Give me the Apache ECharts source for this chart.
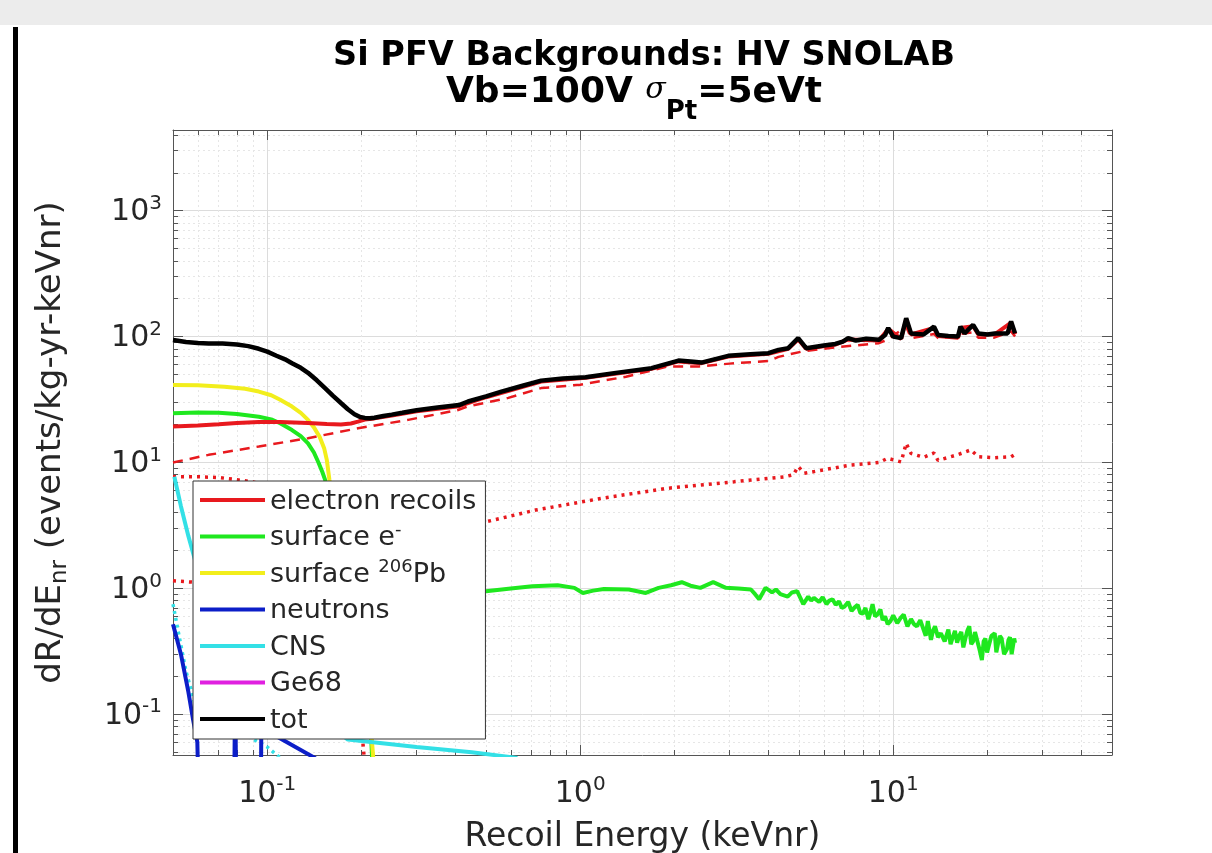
<!DOCTYPE html>
<html>
<head>
<meta charset="utf-8">
<title>Si PFV Backgrounds: HV SNOLAB</title>
<script src="https://cdn.jsdelivr.net/npm/echarts@6/dist/echarts.min.js"></script>
<style>
  html, body { margin: 0; padding: 0; background: #fff; }
  #chart { width: 1212px; height: 853px; }
</style>
</head>
<body>
<div id="chart"></div>
<script>
// values, [recoil energy keVnr, dR/dE]
const totPts = [[0.05, 94], [0.055, 90.5], [0.06, 89], [0.065, 88.3], [0.072, 88], [0.08, 86.5], [0.087, 84], [0.094, 80],
  [0.1, 76], [0.107, 70.5], [0.114, 66], [0.12, 61.5], [0.128, 56.5], [0.135, 51.6], [0.144, 45], [0.153, 39], [0.162, 34],
  [0.172, 29.7], [0.181, 26.5], [0.19, 24.2], [0.198, 23], [0.205, 22.6], [0.213, 22.5], [0.22, 22.7], [0.235, 23.4],
  [0.25, 24], [0.27, 24.8], [0.3, 26], [0.35, 27.3], [0.41, 28.6], [0.438, 30.5], [0.5, 33.5], [0.56, 36.5], [0.65, 40.5],
  [0.75, 44.7], [0.88, 46.5], [1.04, 47.6], [1.3, 51.5], [1.69, 56.1], [2.06, 64.5], [2.3, 63], [2.44, 62.2], [2.97, 70.3],
  [3.5, 72.5], [3.99, 73.9], [4.3, 78.4], [4.62, 80.9], [4.97, 97.2], [5.27, 80.9], [6, 85], [6.53, 87.5], [6.9, 91.3],
  [7.18, 97.2], [7.6, 93], [8.2, 96], [9, 94.2], [9.42, 103], [9.64, 117], [10, 100], [10.6, 97.2], [11, 140], [11.4, 106],
  [12.5, 104], [13.5, 120], [13.9, 103], [15, 101], [16.1, 100], [16.4, 120], [16.9, 106], [18, 124], [18.7, 106], [20, 104],
  [21.1, 106], [23.2, 106], [23.8, 132], [24.5, 106]]

const electronPts = [[0.05, 19.3], [0.06, 19.7], [0.07, 20.1], [0.08, 20.6], [0.094, 21], [0.11, 21], [0.135, 20.6],
  [0.155, 20.2], [0.172, 20], [0.185, 20.4], [0.195, 21.1], [0.205, 21.9], [0.22, 22.4], [0.25, 23.6], [0.3, 25.5],
  [0.41, 28], [0.5, 33], [0.75, 44], [1.04, 47], [1.69, 55.5], [2.06, 63.5], [2.44, 61.5], [2.97, 69.5], [3.99, 73],
  [4.62, 80], [4.97, 95], [5.27, 80], [6.53, 86.5], [7.18, 95], [9, 93], [9.64, 115], [10.6, 96], [11, 137], [11.4, 104],
  [13.5, 117], [13.9, 101], [16.1, 98], [16.4, 117], [18, 121], [18.7, 104], [21.1, 104], [23.8, 129], [24.5, 104]]

const electronDashed = [[0.05, 10], [0.065, 11.5], [0.094, 13.4], [0.135, 15.6], [0.195, 18.7], [0.282, 21.8], [0.407, 26.1],
  [0.438, 27.9], [0.589, 32.6], [0.75, 39], [1.0, 41.5], [1.4, 48], [1.9, 57.8], [2.4, 58], [3.0, 61], [4.0, 64], [4.3, 69],
  [5.1, 76], [6.5, 82], [9.0, 88.7], [9.6, 95], [11, 120], [11.4, 97], [13.5, 105], [14, 96], [16.4, 105], [18, 108],
  [18.7, 98], [21, 98], [23.8, 110], [24.5, 100]]

const electronDotted = [[0.05, 7.7], [0.06, 7.7], [0.07, 7.6], [0.08, 7.3], [0.09, 7.0], [0.12, 5.8], [0.2, 4.3], [0.3, 3.5],
  [0.4, 3.3], [0.5, 3.38], [0.72, 4.19], [1.17, 5.19], [1.9, 6.24], [3.1, 7.03], [4.5, 7.7], [4.8, 8], [4.97, 9.3], [5.2, 8.2],
  [7.3, 9.55], [9.0, 10], [9.6, 10.8], [10.6, 10.1], [11, 14.2], [11.4, 11.8], [12.5, 11], [13.5, 11.9], [13.9, 10.4],
  [16, 11.5], [17.7, 12.6], [18.7, 11.1], [21, 10.9], [23.8, 11.1], [24.5, 11.6]]

const electronDottedLow = [[0.05, 1.15], [0.058, 1.12], [0.07, 1.05], [0.1, 0.85], [0.14, 0.5], [0.18, 0.2], [0.2, 0.08],
  [0.205, 0.04]]

const surfaceEPts = [[0.05, 24.6], [0.06, 24.9], [0.07, 24.8], [0.08, 24.3], [0.094, 23.1], [0.103, 22], [0.11, 20.5],
  [0.12, 18.1], [0.128, 16.2], [0.135, 14.2], [0.141, 12], [0.146, 9.9], [0.15, 8.4], [0.153, 7.3], [0.17, 3.2], [0.19, 1.1],
  [0.205, 0.3], [0.214, 0.08], [0.218, 0.03]]

const surfaceEHigh = [[0.4, 0.97], [0.5, 0.95], [0.6, 1.0], [0.703, 1.04], [0.847, 1.06], [0.958, 1.01], [1.02, 0.92],
  [1.1, 0.96], [1.19, 0.99], [1.43, 0.98], [1.62, 0.92], [1.78, 1.01], [1.95, 1.06], [2.11, 1.12], [2.25, 1.05], [2.42, 1.01],
  [2.66, 1.12], [2.92, 1.01], [3.2, 1.0], [3.51, 0.98], [3.62, 0.9], [3.73, 0.82], [3.91, 1.01], [4.1, 0.93], [4.22, 0.98],
  [4.36, 0.9], [4.6, 0.86], [4.75, 0.93], [4.93, 0.95], [5.05, 0.84], [5.16, 0.75], [5.35, 0.86], [5.47, 0.8], [5.58, 0.84],
  [5.8, 0.78], [5.95, 0.85], [6.12, 0.75], [6.25, 0.8], [6.4, 0.82], [6.55, 0.74], [6.71, 0.79], [6.85, 0.7], [7.0, 0.72],
  [7.18, 0.78], [7.36, 0.66], [7.5, 0.7], [7.7, 0.74], [7.85, 0.64], [8.0, 0.63], [8.15, 0.7], [8.33, 0.57], [8.45, 0.64],
  [8.59, 0.75], [8.75, 0.6], [8.9, 0.62], [9.1, 0.68], [9.25, 0.56], [9.42, 0.6], [9.6, 0.52], [9.8, 0.55], [10.0, 0.61],
  [10.3, 0.53], [10.55, 0.58], [10.8, 0.62], [11.1, 0.5], [11.4, 0.57], [11.65, 0.52], [11.9, 0.5], [12.2, 0.56],
  [12.5, 0.47], [12.7, 0.42], [12.9, 0.55], [13.2, 0.39], [13.4, 0.46], [13.6, 0.5], [13.9, 0.41], [14.2, 0.44],
  [14.6, 0.38], [15.0, 0.47], [15.25, 0.36], [15.5, 0.41], [15.75, 0.46], [16.0, 0.37], [16.25, 0.42], [16.5, 0.45],
  [16.75, 0.34], [17.0, 0.4], [17.25, 0.46], [17.5, 0.5], [17.75, 0.36], [18.0, 0.38], [18.25, 0.45], [18.5, 0.44],
  [18.85, 0.33], [19.2, 0.27], [19.45, 0.38], [19.7, 0.4], [19.95, 0.31], [20.2, 0.35], [20.6, 0.42], [21.1, 0.44],
  [21.35, 0.31], [21.6, 0.36], [21.9, 0.42], [22.2, 0.4], [22.6, 0.3], [23.1, 0.33], [23.35, 0.39], [23.6, 0.41],
  [23.9, 0.3], [24.2, 0.29], [24.35, 0.4], [24.5, 0.37]]

const surfacePbPts = [[0.05, 41.3], [0.06, 41], [0.073, 40], [0.085, 38.5], [0.094, 36.6], [0.103, 34.2], [0.11, 31.5],
  [0.12, 27.8], [0.128, 24.8], [0.135, 21.8], [0.141, 19], [0.147, 16], [0.152, 13], [0.155, 10.5], [0.158, 7.3],
  [0.165, 3.5], [0.19, 0.8], [0.21, 0.15], [0.221, 0.03]]

const neutronPts = [[0.05, 0.52], [0.053, 0.3], [0.056, 0.15], [0.058, 0.09], [0.0598, 0.06], [0.0602, 0.03], [0.0785, 0.03],
  [0.079, 0.2], [0.0795, 0.03], [0.0955, 0.03], [0.096, 0.2], [0.1, 0.1], [0.108, 0.066], [0.142, 0.045], [0.16, 0.035]]

const cnsPts = [[0.0505, 7.7], [0.053, 4.5], [0.056, 2.6], [0.06, 1.4], [0.07, 0.6], [0.09, 0.25], [0.12, 0.13], [0.16, 0.08],
  [0.181, 0.063], [0.3, 0.055], [0.45, 0.05], [0.63, 0.045]]

const cnsDotted = [[0.05, 0.75], [0.052, 0.45], [0.055, 0.22], [0.06, 0.1], [0.08, 0.075], [0.1, 0.055], [0.11, 0.045]]

const ge68Pts = []

// axis ticks
const xMajor = [0.1, 1, 10]
const xMinor = [0.05, 0.06, 0.07, 0.08, 0.09, 0.2, 0.3, 0.4, 0.5, 0.6, 0.7, 0.8, 0.9, 2, 3, 4, 5, 6, 7, 8, 9, 20, 30, 40]
const yMajor = [0.1, 1, 10, 100, 1000]
const yMinor = [0.05, 0.06, 0.07, 0.08, 0.09, 0.2, 0.3, 0.4, 0.5, 0.6, 0.7, 0.8, 0.9, 2, 3, 4, 5, 6, 7, 8, 9,
  20, 30, 40, 50, 60, 70, 80, 90, 200, 300, 400, 500, 600, 700, 800, 900, 2000, 3000, 4000]

const legendNames = ['electron recoils', 'surface e-', 'surface 206Pb', 'neutrons', 'CNS', 'Ge68', 'tot']
const legendRich = {
  'electron recoils': '{n|electron recoils}',
  'surface e-': '{n|surface e}{s|-}',
  'surface 206Pb': '{n|surface }{s|206}{n|Pb}',
  neutrons: '{n|neutrons}',
  CNS: '{n|CNS}',
  Ge68: '{n|Ge68}',
  tot: '{n|tot}'
}

const font = 'DejaVu Sans'
const ink = '#262626'
const axisColor = '#555'
const xRange = [0.05, 50]
const yRange = [0.0475, 4375]

const powRich = {
  b: { fontFamily: font, fontSize: 30, color: ink, lineHeight: 34, verticalAlign: 'bottom' },
  e: { fontFamily: font, fontSize: 20, color: ink, lineHeight: 18, verticalAlign: 'top' }
}

function powLabel (v) {
  return '{b|10}{e|' + Math.round(Math.log10(v)) + '}'
}

function logAxis (pos, range, ticks, len, extra) {
  return Object.assign({
    type: 'log',
    logBase: 10,
    position: pos,
    min: range[0],
    max: range[1],
    axisLine: { show: false, onZero: false },
    axisTick: { show: true, inside: true, length: len, customValues: ticks, lineStyle: { color: axisColor, width: 1 } },
    axisLabel: { show: false },
    splitLine: { show: false }
  }, extra)
}

const majorGrid = { show: true, lineStyle: { color: '#dcdcdc', width: 1, type: 'solid' } }
const minorGrid = { show: true, lineStyle: { color: '#e6e6e6', width: 1, type: [2, 3] } }
const frame = { show: true, onZero: false, lineStyle: { color: axisColor, width: 1 } }

function line (name, data, color, width, dash, z) {
  return {
    name: name,
    type: 'line',
    data: data,
    xAxisIndex: 0,
    yAxisIndex: 0,
    symbol: 'none',
    showSymbol: false,
    silent: true,
    z: z,
    lineStyle: { color: color, width: width, type: dash },
    itemStyle: { color: color }
  }
}

const myChart = echarts.init(document.getElementById('chart'), null, { renderer: 'canvas' })
const option = {
  animation: false,
  backgroundColor: '#fff',
  graphic: [
    { type: 'rect', left: 0, top: 0, shape: { width: 1212, height: 25 }, style: { fill: '#ececec' }, silent: true },
    { type: 'rect', left: 13, top: 27, shape: { width: 5, height: 826 }, style: { fill: '#000' }, silent: true }
  ],
  title: {
    left: 644,
    top: 39,
    padding: 0,
    textAlign: 'center',
    // z token is an empty spacer: makes line 2 tall enough to drop the subscript and nudges it left
    text: '{t|Si PFV Backgrounds: HV SNOLAB}\n{u|Vb=100V }{g|σ}{p|Pt}{u|=5eVt}{z| }',
    textStyle: {
      rich: {
        t: { fontFamily: font, fontSize: 33.5, fontWeight: 'bold', color: '#000', lineHeight: 36, verticalAlign: 'top' },
        u: { fontFamily: font, fontSize: 36, fontWeight: 'bold', color: '#000', lineHeight: 36, verticalAlign: 'top' },
        g: { fontFamily: 'DejaVu Serif', fontStyle: 'italic', fontWeight: 'normal', fontSize: 30, color: '#000', lineHeight: 36, verticalAlign: 'top' },
        p: { fontFamily: font, fontSize: 26, fontWeight: 'bold', color: '#000', lineHeight: 24, verticalAlign: 'bottom' },
        z: { fontSize: 8, width: 20, lineHeight: 50, verticalAlign: 'top' }
      }
    }
  },
  legend: {
    data: legendNames,
    orient: 'vertical',
    left: 193,
    top: 481,
    padding: [4, 9, 5, 7],
    itemGap: 6.5,
    itemWidth: 65,
    itemHeight: 4,
    icon: 'rect',
    backgroundColor: '#fff',
    borderColor: '#333',
    borderWidth: 1,
    borderRadius: 0,
    selectedMode: false,
    formatter: name => legendRich[name],
    textStyle: {
      fontFamily: font,
      fontSize: 27,
      color: ink,
      lineHeight: 30,
      rich: {
        n: { fontFamily: font, fontSize: 27, color: ink, lineHeight: 30, verticalAlign: 'bottom' },
        s: { fontFamily: font, fontSize: 18, color: ink, lineHeight: 14, verticalAlign: 'top' }
      }
    }
  },
  grid: { left: 173, right: 100, top: 130, bottom: 98, outerBoundsMode: 'none', containLabel: false },
  xAxis: [
    logAxis('bottom', xRange, xMajor, 10, {
      axisLine: frame,
      axisLabel: { show: true, customValues: xMajor, formatter: powLabel, margin: 20, rich: powRich },
      splitLine: majorGrid,
      name: 'Recoil Energy (keVnr)',
      nameLocation: 'middle',
      nameGap: 63,
      nameTextStyle: { fontFamily: font, fontSize: 33, color: ink, lineHeight: 38 }
    }),
    logAxis('bottom', xRange, xMinor, 5, { splitLine: minorGrid }),
    logAxis('top', xRange, xMajor, 10, { axisLine: frame }),
    logAxis('top', xRange, xMinor, 5, {})
  ],
  yAxis: [
    logAxis('left', yRange, yMajor, 10, {
      axisLine: frame,
      axisLabel: { show: true, customValues: yMajor, formatter: powLabel, margin: 11, rich: powRich },
      splitLine: majorGrid,
      name: '{a|dR/dE}{s|nr}{a| (events/kg-yr-keVnr)}',
      nameLocation: 'middle',
      nameGap: 101,
      nameTextStyle: {
        rich: {
          a: { fontFamily: font, fontSize: 34, color: ink, lineHeight: 38, verticalAlign: 'top' },
          s: { fontFamily: font, fontSize: 23, color: ink, lineHeight: 22, verticalAlign: 'bottom' }
        }
      }
    }),
    logAxis('left', yRange, yMinor, 5, { splitLine: minorGrid }),
    logAxis('right', yRange, yMajor, 10, { axisLine: frame }),
    logAxis('right', yRange, yMinor, 5, {})
  ],
  series: [
    line('er dashed', electronDashed, '#e8191e', 2.5, [10, 7], 2),
    line('er dotted', electronDotted, '#e8191e', 3.5, [3, 5], 2),
    line('er dotted low', electronDottedLow, '#e8191e', 3.5, [3, 5], 2),
    line('CNS dotted', cnsDotted, '#33e0e6', 3.5, [3, 4], 2),
    line('surface e- high', surfaceEHigh, '#1fe81f', 4, 'solid', 3),
    line('surface e-', surfaceEPts, '#1fe81f', 4, 'solid', 3),
    line('surface 206Pb', surfacePbPts, '#f2ee1c', 4, 'solid', 3),
    line('neutrons', neutronPts, '#0c1ec8', 4, 'solid', 3),
    line('CNS', cnsPts, '#33e0e6', 4, 'solid', 3),
    line('Ge68', ge68Pts, '#e020e0', 4, 'solid', 3),
    line('electron recoils', electronPts, '#e8191e', 4, 'solid', 4),
    line('tot', totPts, '#000', 4.5, 'solid', 5)
  ]
}
myChart.setOption(option, true)
</script>
</body>
</html>
